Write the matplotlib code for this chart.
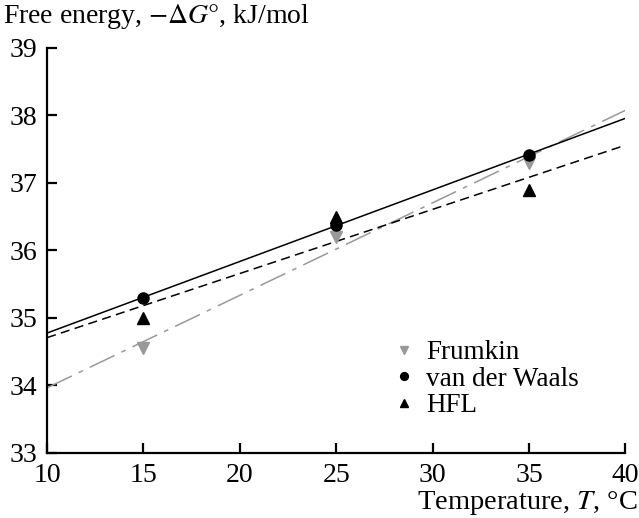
import numpy as np
import matplotlib.pyplot as plt

plt.rcParams['font.family'] = ['Liberation Serif', 'DejaVu Serif']
plt.rcParams['mathtext.fontset'] = 'stix'

temps = [15, 25, 35]
frumkin = [34.56, 36.2, 37.3]
vdw = [35.3, 36.38, 37.42]
hfl = [35.0, 36.5, 36.9]

fig = plt.figure(figsize=(6.39, 5.18), dpi=100)
ax = fig.add_axes([0.0736, 0.1255, 0.905, 0.782])

xs = np.array([10, 40])
# linear fits for each isotherm
k, b = np.polyfit(temps, frumkin, 1)
ax.plot(xs, k * xs + b, color='#999999', lw=1.1, dashes=(18, 5, 3, 5))
k, b = np.polyfit(temps, vdw, 1)
ax.plot(xs, k * xs + b, color='black', lw=1.1)
k, b = np.polyfit(temps, hfl, 1)
ax.plot(xs, k * xs + b, color='black', lw=1.1, dashes=(6, 3.5))

ax.plot(temps, frumkin, 'v', color='#999999', ms=8.5, ls='none', label='Frumkin', zorder=3)
ax.plot(temps, vdw, 'o', color='black', ms=8, ls='none', label='van der Waals', zorder=3)
ax.plot(temps, hfl, '^', color='black', ms=8, ls='none', label='HFL', zorder=3)

ax.set_xlim(10, 40)
ax.set_ylim(33, 39)
ax.set_xticks(range(10, 41, 5))
ax.set_yticks(range(33, 40))
for s in ['top', 'right']:
    ax.spines[s].set_visible(False)
for s in ['left', 'bottom']:
    ax.spines[s].set_linewidth(1.6)
ax.tick_params(direction='in', length=7.5, width=1.6, labelsize=20)
ax.tick_params(axis='y', pad=7)
ax.tick_params(axis='x', pad=7)

leg = ax.legend(loc='lower left', bbox_to_anchor=(0.552, 0.026), frameon=False,
                fontsize=19.5, handletextpad=0.3, labelspacing=0.05,
                handlelength=1.0, markerscale=0.7)

fig.text(0.005, 0.997, r'Free energy, $-\Delta G\degree$, kJ/mol', fontsize=20,
         ha='left', va='top')
fig.text(0.998, 0.002, r'Temperature, $T$, °C', fontsize=20.5, ha='right', va='bottom')

fig.savefig('out.png', dpi=100)
